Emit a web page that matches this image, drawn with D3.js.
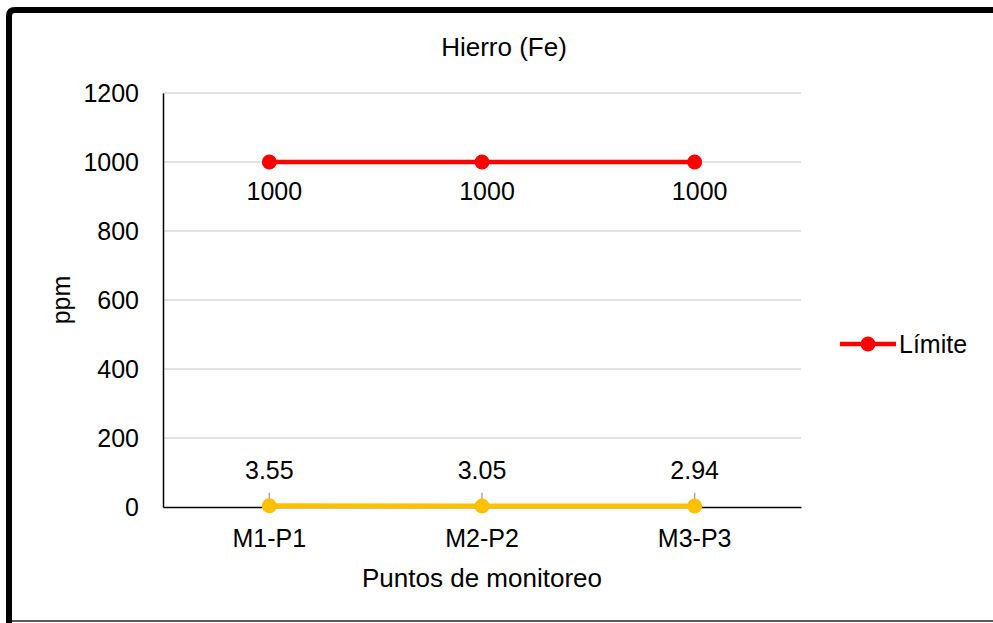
<!DOCTYPE html>
<html>
<head>
<meta charset="utf-8">
<script src="https://cdn.jsdelivr.net/npm/d3@7"></script>
<style>
  html, body { margin: 0; padding: 0; background: #fff; overflow: hidden; }
  svg { display: block; font-family: "Liberation Sans", Arial, sans-serif; }
</style>
</head>
<body>
<div id="chart"></div>
<script>
// chart data
const categories = ["M1-P1", "M2-P2", "M3-P3"];
const limite = [1000, 1000, 1000];
const hierro = [3.55, 3.05, 2.94];
const hierroErr = [38, 38, 38];
const yTicks = [0, 200, 400, 600, 800, 1000, 1200];

const width = 993, height = 623;
const margin = { left: 163, right: 192, top: 93, bottom: 116 };

const svg = d3.select("#chart").append("svg")
    .attr("width", width)
    .attr("height", height);

// frame
svg.append("path")
    .attr("d", "M9,630 L9,16 Q9,10 15,10 L1010,10")
    .attr("fill", "none")
    .attr("stroke", "#000")
    .attr("stroke-width", 6);
svg.append("line")
    .attr("x1", 12).attr("x2", width)
    .attr("y1", 621).attr("y2", 621)
    .attr("stroke", "#595959")
    .attr("stroke-width", 2);

const x = d3.scaleBand()
    .domain(categories)
    .range([margin.left, width - margin.right]);

const y = d3.scaleLinear()
    .domain([0, 1200])
    .range([height - margin.bottom, margin.top]);

const cx = d => x(d) + x.bandwidth() / 2;

// gridlines
svg.append("g")
    .selectAll("line")
    .data(yTicks.filter(t => t > 0))
    .join("line")
    .attr("x1", margin.left).attr("x2", width - margin.right)
    .attr("y1", d => y(d)).attr("y2", d => y(d))
    .attr("stroke", "#d9d9d9")
    .attr("stroke-width", 1.5);

// y axis
const yAxis = svg.append("g")
    .attr("transform", `translate(${margin.left},0)`)
    .call(d3.axisLeft(y).tickValues(yTicks).tickFormat(d3.format("d")).tickSize(0).tickPadding(24));
yAxis.select(".domain").attr("stroke", "#000").attr("stroke-width", 1.5);
yAxis.selectAll("text")
    .attr("font-size", "25px")
    .attr("fill", "#000")
    .attr("font-family", "Liberation Sans, Arial, sans-serif");

// x axis
const xAxis = svg.append("g")
    .attr("transform", `translate(0,${y(0)})`)
    .call(d3.axisBottom(x).tickSize(0).tickPadding(22));
xAxis.select(".domain").attr("stroke", "#000").attr("stroke-width", 1.5);
xAxis.selectAll("text")
    .attr("font-size", "25px")
    .attr("fill", "#000")
    .attr("font-family", "Liberation Sans, Arial, sans-serif");

// title
svg.append("text")
    .attr("x", (margin.left + width - margin.right) / 2 + 22)
    .attr("y", 56)
    .attr("text-anchor", "middle")
    .attr("font-size", "26px")
    .text("Hierro (Fe)");

// axis titles
svg.append("text")
    .attr("x", (margin.left + width - margin.right) / 2)
    .attr("y", 587)
    .attr("text-anchor", "middle")
    .attr("font-size", "26px")
    .text("Puntos de monitoreo");

svg.append("text")
    .attr("transform", `translate(70,${(margin.top + height - margin.bottom) / 2}) rotate(-90)`)
    .attr("text-anchor", "middle")
    .attr("font-size", "25px")
    .text("ppm");

const line = d3.line()
    .x((d, i) => cx(categories[i]))
    .y(d => y(d));

// limite series
svg.append("path")
    .datum(limite)
    .attr("d", line)
    .attr("fill", "none")
    .attr("stroke", "#ff0000")
    .attr("stroke-width", 4.5);
svg.append("g")
    .selectAll("circle")
    .data(limite)
    .join("circle")
    .attr("cx", (d, i) => cx(categories[i]))
    .attr("cy", d => y(d))
    .attr("r", 7.5)
    .attr("fill", "#ff0000");
svg.append("g")
    .selectAll("text")
    .data(limite)
    .join("text")
    .attr("x", (d, i) => cx(categories[i]) + 5)
    .attr("y", d => y(d) + 38)
    .attr("text-anchor", "middle")
    .attr("font-size", "25px")
    .text(d => d);

// hierro series
svg.append("g")
    .selectAll("line")
    .data(hierro)
    .join("line")
    .attr("x1", (d, i) => cx(categories[i]))
    .attr("x2", (d, i) => cx(categories[i]))
    .attr("y1", d => y(d))
    .attr("y2", (d, i) => y(d + hierroErr[i]))
    .attr("stroke", "#a6a6a6")
    .attr("stroke-width", 1.5);
svg.append("path")
    .datum(hierro)
    .attr("d", line)
    .attr("fill", "none")
    .attr("stroke", "#ffc000")
    .attr("stroke-width", 5);
svg.append("g")
    .selectAll("circle")
    .data(hierro)
    .join("circle")
    .attr("cx", (d, i) => cx(categories[i]))
    .attr("cy", d => y(d))
    .attr("r", 7.5)
    .attr("fill", "#ffc000");
svg.append("g")
    .selectAll("text")
    .data(hierro)
    .join("text")
    .attr("x", (d, i) => cx(categories[i]))
    .attr("y", d => y(d) - 27)
    .attr("text-anchor", "middle")
    .attr("font-size", "25px")
    .text(d => d.toFixed(2));

// legend
const legend = svg.append("g").attr("transform", "translate(840,344)");
legend.append("line")
    .attr("x1", 0).attr("x2", 56)
    .attr("stroke", "#ff0000")
    .attr("stroke-width", 4.5);
legend.append("circle")
    .attr("cx", 28)
    .attr("r", 7.5)
    .attr("fill", "#ff0000");
legend.append("text")
    .attr("x", 59)
    .attr("y", 9)
    .attr("font-size", "25px")
    .text("Límite");
</script>
</body>
</html>
